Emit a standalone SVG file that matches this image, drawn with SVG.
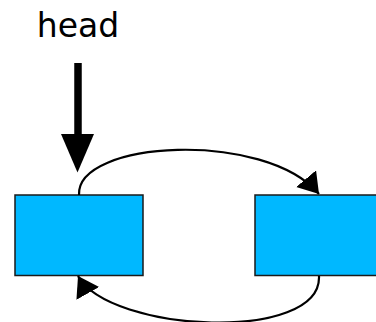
<svg xmlns="http://www.w3.org/2000/svg" width="376" height="322" viewBox="0 0 376 322">
  <style>
    .node rect { fill: #00b8ff; stroke: #1a1a1a; stroke-width: 1.5; }
    .conn { fill: none; stroke: #000; stroke-width: 2.2; }
    .label { font-family: "DejaVu Sans", sans-serif; font-size: 33px; fill: #000; }
  </style>
  <defs>
    <marker id="ah" markerUnits="userSpaceOnUse" markerWidth="22" markerHeight="28" refX="20" refY="13" orient="auto">
      <path d="M0,0 L20,13 L0,26 Z" fill="#000"/>
    </marker>
  </defs>
  <g id="head-label">
    <text class="label" x="78" y="37" text-anchor="middle">head</text>
  </g>
  <g id="node1" class="node">
    <rect x="15" y="195" width="128" height="80.5"/>
  </g>
  <g id="node2" class="node">
    <rect x="255" y="195" width="128" height="80.5"/>
  </g>
  <g id="connectors">
    <path d="M78,63 L78,140" stroke="#000" stroke-width="7.5" fill="none"/>
    <polygon points="61,134 94,134 77.5,172.5" fill="#000"/>
    <path class="conn" d="M79,195 C76,140 265,130 319,194" marker-end="url(#ah)"/>
    <path class="conn" d="M319,276 C322,343 110,333 78,276" marker-end="url(#ah)"/>
  </g>
</svg>
